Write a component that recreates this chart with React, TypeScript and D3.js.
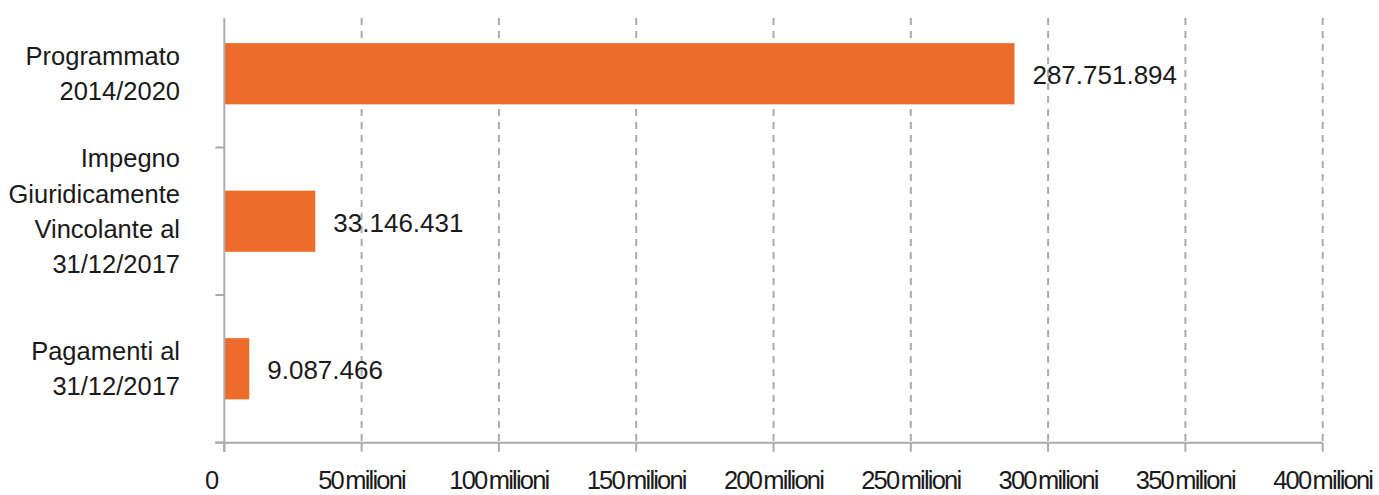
import React, { useEffect } from "react";
import * as d3 from "d3";

const categories: string[][] = [
  ["Programmato", "2014/2020"],
  ["Impegno", "Giuridicamente", "Vincolante al", "31/12/2017"],
  ["Pagamenti al", "31/12/2017"],
];
const values: number[] = [287751894, 33146431, 9087466];
const valueLabels: string[] = ["287.751.894", "33.146.431", "9.087.466"];
const tickValues: number[] = [0, 50e6, 100e6, 150e6, 200e6, 250e6, 300e6, 350e6, 400e6];
const tickLabels: string[] = ["0", "50 milioni", "100 milioni", "150 milioni", "200 milioni", "250 milioni", "300 milioni", "350 milioni", "400 milioni"];

const W = 1379;
const H = 495;
const BAR = "#EE6C2A";
const AXIS = "#ababab";
const TEXT = "#1a1a1a";
const FONT = "'Liberation Sans', Arial, sans-serif";

export default function App() {
  useEffect(() => {
    document.body.style.margin = "0";
  }, []);

  const x = d3.scaleLinear().domain([0, 400e6]).range([224.3, 1322.7]);
  const keys = categories.map((c) => c.join(" "));
  const y = d3
    .scaleBand<string>()
    .domain(keys)
    .range([0, 442.5])
    .paddingInner(0.585)
    .paddingOuter(0.2925);
  const step = y.step();
  const axisTop = 18;
  const axisY = 442.7;
  const x0 = x(0);

  const bandEdges = keys.map((k) => (y(k) as number) - (step * 0.585) / 2 + step);

  return (
    <svg width={W} height={H} style={{ position: "absolute", left: 0, top: 0, background: "#fff" }}>
      {/* gridlines */}
      {tickValues.slice(1).map((t) => (
        <line
          key={"g" + t}
          x1={x(t)}
          x2={x(t)}
          y1={axisTop}
          y2={axisY}
          stroke={AXIS}
          strokeWidth={2}
          strokeDasharray="7,6"
        />
      ))}
      {/* bars */}
      {keys.map((k, i) => (
        <rect
          key={"b" + k}
          x={x0}
          y={y(k) as number}
          width={x(values[i]) - x0}
          height={y.bandwidth()}
          fill={BAR}
        />
      ))}
      {/* y axis */}
      <line x1={x0} x2={x0} y1={axisTop} y2={axisY + 9} stroke={AXIS} strokeWidth={2} />
      {bandEdges.map((e, i) => (
        <line key={"yt" + i} x1={x0 - 9} x2={x0} y1={e} y2={e} stroke={AXIS} strokeWidth={2} />
      ))}
      {/* x axis */}
      <line x1={x0 - 9} x2={x(400e6)} y1={axisY} y2={axisY} stroke={AXIS} strokeWidth={2} />
      {tickValues.map((t) => (
        <line key={"xt" + t} x1={x(t)} x2={x(t)} y1={axisY} y2={axisY + 9} stroke={AXIS} strokeWidth={2} />
      ))}
      {tickValues.map((t, i) => (
        <text
          key={"xl" + t}
          x={t === 0 ? x(t) - 13 : x(t)}
          y={489}
          textAnchor="middle"
          fontFamily={FONT}
          fontSize={25.5}
          letterSpacing={-1.8}
          wordSpacing={-3}
          fill={TEXT}
        >
          {tickLabels[i]}
        </text>
      ))}
      {/* category labels */}
      {categories.map((lines, i) => {
        const c = (y(keys[i]) as number) + y.bandwidth() / 2;
        const lh = 35.2;
        const shift = lines.length > 2 ? -1 : 8.5;
        const first = c + shift - ((lines.length - 1) * lh) / 2;
        return (
          <text key={"cl" + i} textAnchor="end" fontFamily={FONT} fontSize={25.5} fill={TEXT}>
            {lines.map((l, j) => (
              <tspan key={j} x={180} y={first + j * lh}>
                {l}
              </tspan>
            ))}
          </text>
        );
      })}
      {/* value labels */}
      {keys.map((k, i) => (
        <text
          key={"vl" + k}
          x={x(values[i]) + 18}
          y={(y(k) as number) + y.bandwidth() / 2 + 10.5}
          fontFamily={FONT}
          fontSize={26}
          fill={TEXT}
        >
          {valueLabels[i]}
        </text>
      ))}
    </svg>
  );
}
